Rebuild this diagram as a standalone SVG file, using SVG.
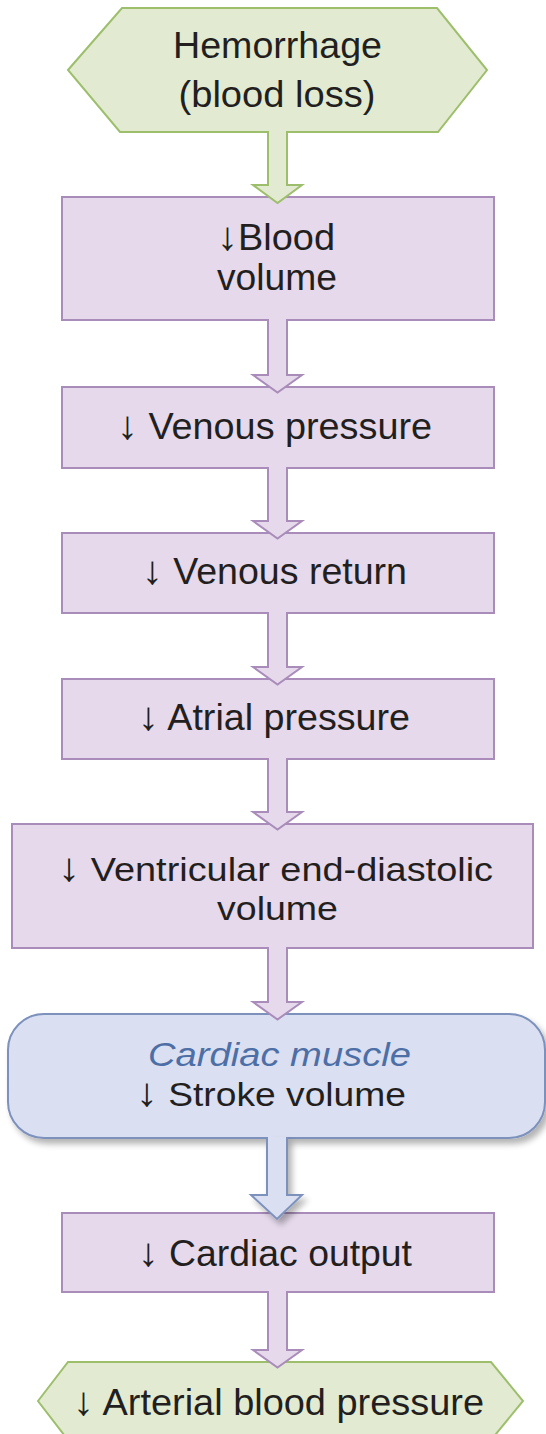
<svg xmlns="http://www.w3.org/2000/svg" width="546" height="1434" viewBox="0 0 546 1434">
  <style>
    .box { fill: #e5d9eb; stroke: #a98cba; stroke-width: 2; }
    .start { fill: #e2ebd2; stroke: #9dbf6c; stroke-width: 2; }
    .muscle { fill: #dae0f1; stroke: #7d91bd; stroke-width: 2; }
    .lbl { font-family: "Liberation Sans", Arial, sans-serif; font-size: 36px; fill: #231f20; text-anchor: middle; }
    .sm { font-size: 34px; }
    .it { font-style: italic; fill: #4d6fa6; }
    .dn { font-size: 40px; }
    .a-purple { fill: #e5d9eb; stroke: #a98cba; stroke-width: 2; stroke-linejoin: miter; }
    .a-green { fill: #e2ebd2; stroke: #9dbf6c; stroke-width: 2; }
    .a-blue { fill: #dae0f1; stroke: #7d91bd; stroke-width: 2; }
  </style>
  <defs>
    <filter id="shadow" x="-10%" y="-20%" width="130%" height="150%">
      <feGaussianBlur in="SourceAlpha" stdDeviation="3"/>
      <feOffset dx="4" dy="5" result="b"/>
      <feComponentTransfer><feFuncA type="linear" slope="0.3"/></feComponentTransfer>
      <feMerge><feMergeNode/><feMergeNode in="SourceGraphic"/></feMerge>
    </filter>
  </defs>
  <rect width="546" height="1434" fill="#ffffff"/>

  <g id="hemorrhage">
    <polygon class="start" points="68,70 122,8 437,8 487,70 438,132 120,132"/>
    <text class="lbl" x="277.5" y="58" textLength="209" lengthAdjust="spacingAndGlyphs">Hemorrhage</text>
    <text class="lbl" x="277" y="107" textLength="197" lengthAdjust="spacingAndGlyphs">(blood loss)</text>
  </g>

  <g id="blood-volume">
    <rect class="box" x="62" y="197" width="432" height="123"/>
    <text class="lbl" x="276" y="250" textLength="118" lengthAdjust="spacingAndGlyphs"><tspan class="dn">↓</tspan>Blood</text>
    <text class="lbl" x="277" y="290" textLength="120" lengthAdjust="spacingAndGlyphs">volume</text>
  </g>

  <g id="venous-pressure">
    <rect class="box" x="62" y="387" width="432" height="81"/>
    <text class="lbl" x="274.5" y="439" textLength="315" lengthAdjust="spacingAndGlyphs"><tspan class="dn">↓</tspan> Venous pressure</text>
  </g>

  <g id="venous-return">
    <rect class="box" x="62" y="533" width="432" height="80"/>
    <text class="lbl" x="274.5" y="584" textLength="265" lengthAdjust="spacingAndGlyphs"><tspan class="dn">↓</tspan> Venous return</text>
  </g>

  <g id="atrial-pressure">
    <rect class="box" x="62" y="679" width="432" height="80"/>
    <text class="lbl" x="274" y="730" textLength="272" lengthAdjust="spacingAndGlyphs"><tspan class="dn">↓</tspan> Atrial pressure</text>
  </g>

  <g id="ventricular-edv">
    <rect class="box" x="12" y="824" width="521" height="124"/>
    <text class="lbl sm" x="275.5" y="881" textLength="435" lengthAdjust="spacingAndGlyphs"><tspan class="dn">↓</tspan> Ventricular end-diastolic</text>
    <text class="lbl sm" x="277.5" y="920" textLength="121" lengthAdjust="spacingAndGlyphs">volume</text>
  </g>

  <g id="cardiac-muscle">
    <rect class="muscle" x="8" y="1014" width="537" height="124" rx="36" ry="36" filter="url(#shadow)"/>
    <text class="lbl sm it" x="279.5" y="1066" textLength="263" lengthAdjust="spacingAndGlyphs">Cardiac muscle</text>
    <text class="lbl sm" x="271" y="1106" textLength="270" lengthAdjust="spacingAndGlyphs"><tspan class="dn">↓</tspan> Stroke volume</text>
  </g>

  <g id="cardiac-output">
    <rect class="box" x="62" y="1213" width="432" height="79"/>
    <text class="lbl" x="275" y="1266" textLength="274" lengthAdjust="spacingAndGlyphs"><tspan class="dn">↓</tspan> Cardiac output</text>
  </g>

  <g id="arterial-pressure">
    <polygon class="start" points="38,1401 68,1362 491,1362 523,1401 491,1440 68,1440"/>
    <text class="lbl" x="278.5" y="1415" textLength="411" lengthAdjust="spacingAndGlyphs"><tspan class="dn">↓</tspan> Arterial blood pressure</text>
  </g>

  <!-- block arrows: open paths so the stroke leaves the top of the shaft unbordered -->
  <g id="connectors">
    <path class="a-green" d="M268,131 V185 H253 L277.5,203 L302,185 H287 V131"/>
    <path class="a-purple" d="M268,319 V375 H253 L277.5,392.5 L302,375 H287 V319"/>
    <path class="a-purple" d="M268,467 V521 H253 L277.5,538.5 L302,521 H287 V467"/>
    <path class="a-purple" d="M268,612 V667 H253 L277.5,684.5 L302,667 H287 V612"/>
    <path class="a-purple" d="M268,758 V812 H253 L277.5,829.5 L302,812 H287 V758"/>
    <path class="a-purple" d="M268,947 V1002 H253 L277.5,1019.5 L302,1002 H287 V947"/>
    <path class="a-blue" d="M267,1137 V1195 H251 L277,1219 L302,1195 H287 V1137" filter="url(#shadow)"/>
    <path class="a-purple" d="M268,1291 V1350 H253 L277.5,1367.5 L302,1350 H287 V1291"/>
  </g>
</svg>
